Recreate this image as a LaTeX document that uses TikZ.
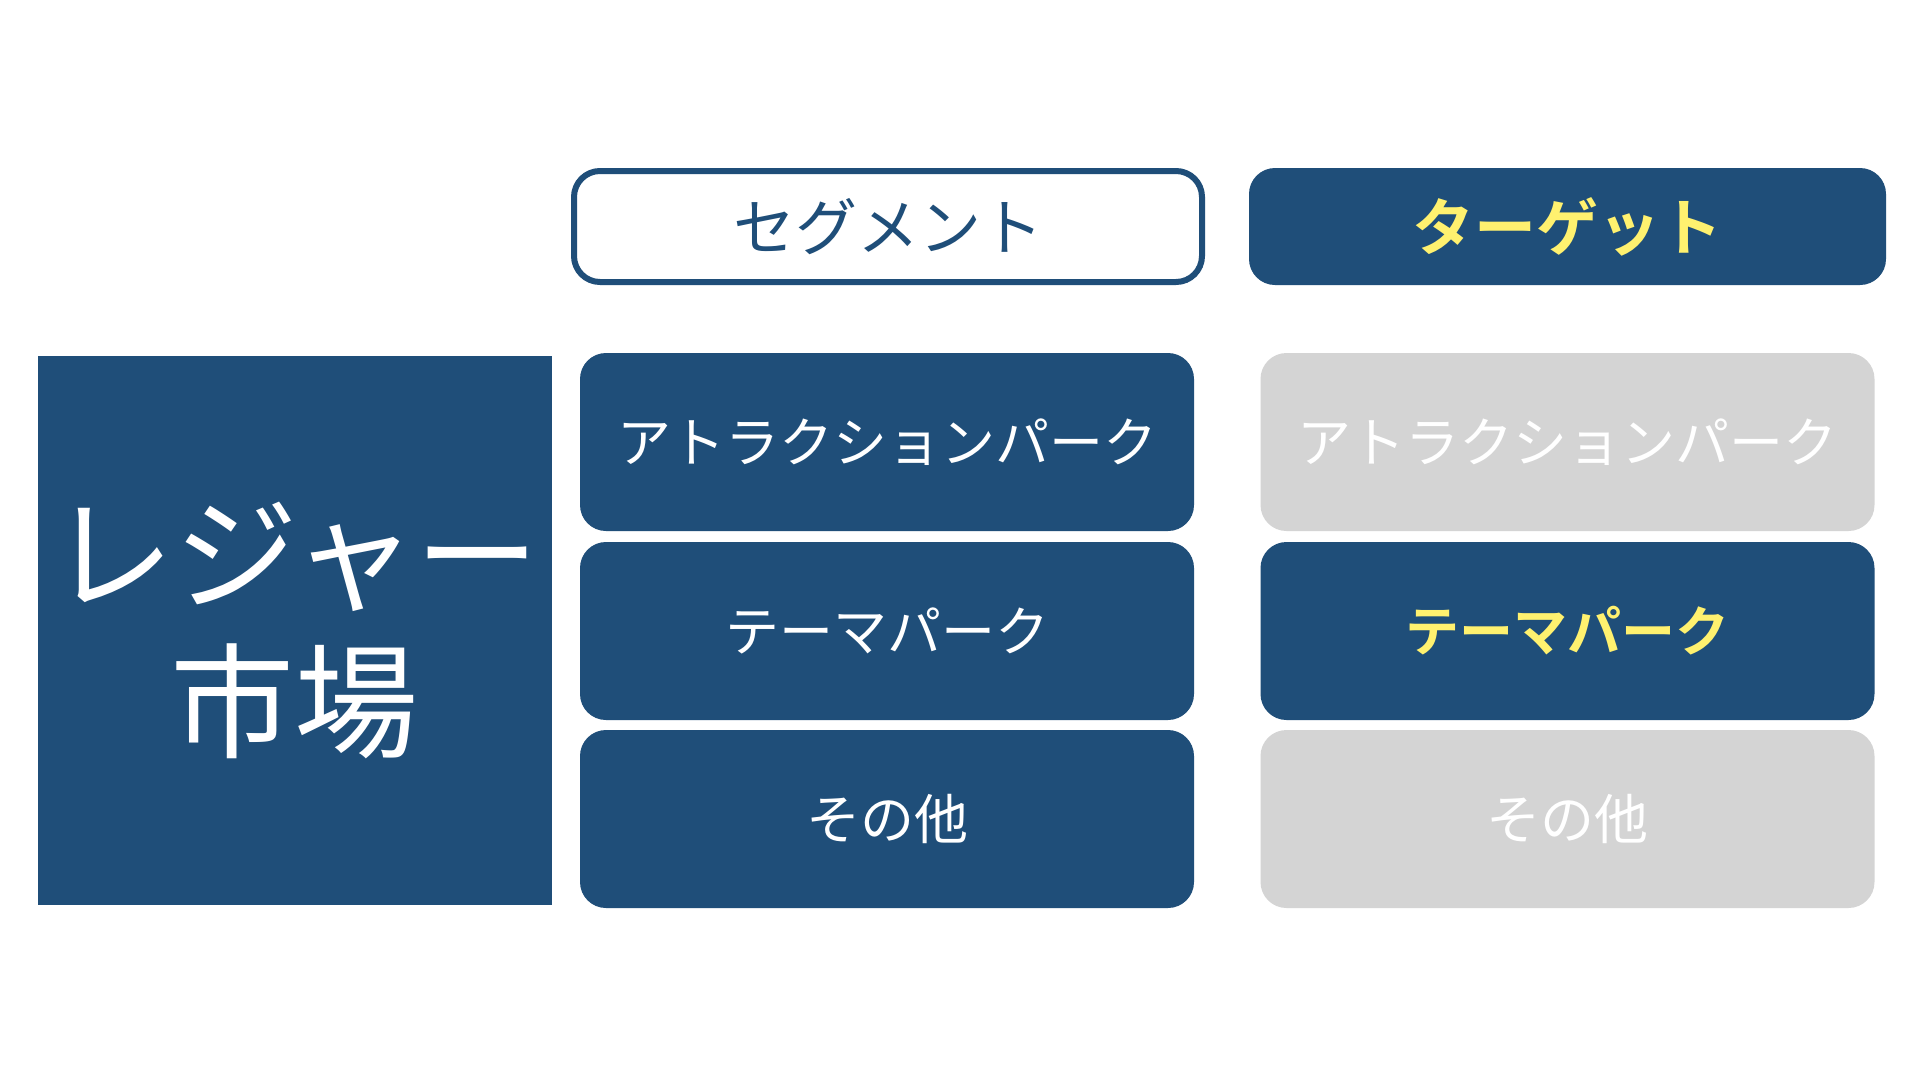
\documentclass[tikz,border=0pt]{standalone}
\usepackage{fontspec}
\newfontfamily\jp{Noto Sans CJK JP}[BoldFont={Noto Sans CJK JP Bold}]
\definecolor{navy}{HTML}{1F4E79}
\definecolor{paleg}{HTML}{D4D4D4}
\definecolor{hilite}{HTML}{FFF16F}
\tikzset{
  cell/.style={rectangle, rounded corners=26pt, inner sep=0pt, outer sep=0pt,
    minimum width=614pt, minimum height=178pt, text=white,
    font={\jp\fontsize{54}{60}\selectfont}},
  bluecell/.style={cell, fill=navy},
  graycell/.style={cell, fill=paleg},
  headbox/.style={rectangle, rounded corners=26pt, inner sep=0pt, outer sep=0pt,
    font={\jp\fontsize{62}{70}\selectfont}}
}
\begin{document}
\begin{tikzpicture}[x=1pt,y=-1pt]
\useasboundingbox (0,0) rectangle (1920,1080);
\fill[white] (0,0) rectangle (1920,1080);
% headers
\node[headbox, draw=navy, line width=6pt, fill=white, text=navy,
  minimum width=628pt, minimum height=111pt] (seg) at (888,226.5) {セグメント};
\node[headbox, fill=navy, text=hilite, minimum width=637pt, minimum height=117pt,
  font={\jp\bfseries\fontsize{62}{70}\selectfont}] (tgt) at (1567.5,226.5) {ターゲット};
% market
\node[rectangle, fill=navy, text=white, inner sep=0pt, outer sep=0pt,
  minimum width=514pt, minimum height=549pt, align=center,
  font={\jp\fontsize{124}{148}\selectfont}] (mkt) at (295,630.5) {レジャー\\市場};
% left column
\node[bluecell] (l1) at (887,442) {アトラクションパーク};
\node[bluecell] (l2) at (887,631) {テーマパーク};
\node[bluecell] (l3) at (887,819) {その他};
% right column
\node[graycell] (r1) at (1567.5,442) {アトラクションパーク};
\node[bluecell, text=hilite, font={\jp\bfseries\fontsize{54}{60}\selectfont}] (r2) at (1567.5,631) {テーマパーク};
\node[graycell] (r3) at (1567.5,819) {その他};
\end{tikzpicture}
\end{document}
